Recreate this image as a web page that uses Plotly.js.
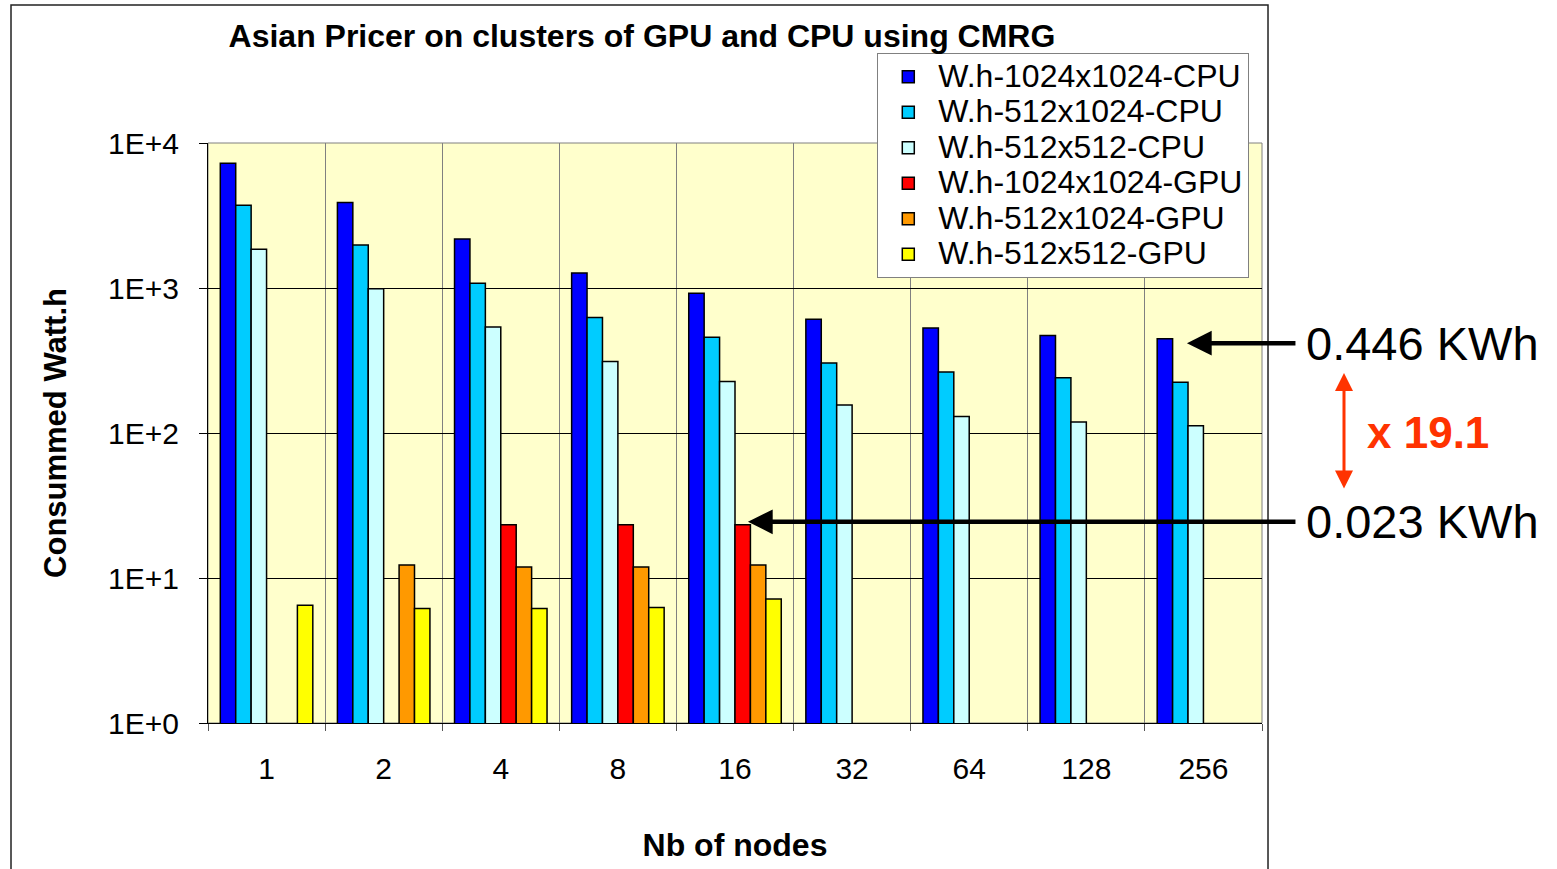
<!DOCTYPE html>
<html>
<head>
<meta charset="utf-8">
<script src="https://cdn.plot.ly/plotly-3.0.1.min.js"></script>
<style>html,body{margin:0;padding:0;background:#fff;}#chart{width:1557px;height:869px;}</style>
</head>
<body>
<div id="chart"></div>
<script>
// ---- data ----
const nodes = ['1', '2', '4', '8', '16', '32', '64', '128', '256'];
const seriesNames = ['W.h-1024x1024-CPU', 'W.h-512x1024-CPU', 'W.h-512x512-CPU',
                     'W.h-1024x1024-GPU', 'W.h-512x1024-GPU', 'W.h-512x512-GPU'];
const cpu1024x1024 = [7250, 3880, 2180, 1270, 920, 610, 530, 470, 446];
const cpu512x1024  = [3720, 1980, 1080, 625, 457, 304, 263, 240, 224];
const cpu512x512   = [1850, 990, 538, 311, 227, 156, 130, 119, 112];
const gpu1024x1024 = [null, null, 23.3, 23.3, 23.3, null, null, null, null];
const gpu512x1024  = [null, 12.3, 11.9, 11.9, 12.3, null, null, null, null];
const gpu512x512   = [6.5, 6.15, 6.15, 6.26, 7.16, null, null, null, null];
const yTickVals = [1, 10, 100, 1000, 10000];
const yTickText = ['1E+0', '1E+1', '1E+2', '1E+3', '1E+4'];
const colors = ['#0000FF', '#00CCFF', '#CCFFFF', '#FF0000', '#FF9900', '#FFFF00'];

const allSeries = [cpu1024x1024, cpu512x1024, cpu512x512, gpu1024x1024, gpu512x1024, gpu512x512];
const FONT = 'Liberation Sans, Arial, sans-serif';

const traces = allSeries.map((vals, i) => ({
  type: 'bar',
  name: '<span style="font-size:32px">' + seriesNames[i] + '</span>',
  x: nodes,
  y: vals,
  marker: {color: colors[i], line: {color: '#000000', width: 1.5}},
  hoverinfo: 'x+y'
}));

// annotated comparison
const cpuBest = cpu1024x1024[8];   // 256 nodes CPU
const gpuBest = gpu1024x1024[4];   // 16 nodes GPU
const ratio = (cpuBest / gpuBest).toFixed(1);
const kwh = v => (v / 1000).toFixed(3) + ' KWh';

const layout = {
  width: 1557,
  height: 869,
  margin: {l: 208, r: 295, t: 143, b: 146},
  paper_bgcolor: '#FFFFFF',
  plot_bgcolor: '#FFFFCC',
  font: {family: FONT, color: '#000000', size: 30},
  barmode: 'group',
  bargap: 0.21,
  bargroupgap: 0,
  showlegend: true,
  title: {
    text: '<b>Asian Pricer on clusters of GPU and CPU using CMRG</b>',
    font: {family: FONT, size: 32, color: '#000000'},
    xref: 'container', x: 0.4123, xanchor: 'center',
    yref: 'container', y: 0.9586, yanchor: 'middle'
  },
  xaxis: {
    type: 'category',
    tickson: 'boundaries',
    showgrid: true,
    gridcolor: '#808080',
    gridwidth: 1,
    showline: true,
    linecolor: '#000000',
    linewidth: 1,
    ticks: 'outside',
    ticklen: 7,
    tickcolor: '#555555',
    tickfont: {family: FONT, size: 30, color: '#000000'},
    ticklabelstandoff: 19,
    title: {text: '<b>Nb of nodes</b>', font: {family: FONT, size: 32}, standoff: 49},
    automargin: false,
    fixedrange: true
  },
  yaxis: {
    type: 'log',
    range: [0, 4],
    tickvals: yTickVals,
    ticktext: yTickText,
    showgrid: true,
    gridcolor: '#000000',
    gridwidth: 1,
    showline: true,
    linecolor: '#000000',
    linewidth: 1,
    ticks: 'outside',
    ticklen: 8,
    tickcolor: '#000000',
    tickfont: {family: FONT, size: 30, color: '#000000'},
    ticklabelstandoff: 14,
    title: {text: '<b>Consummed Watt.h</b>', font: {family: FONT, size: 31}, standoff: 32},
    automargin: false,
    fixedrange: true
  },
  legend: {
    x: 0.635, xanchor: 'left',
    y: 1.155, yanchor: 'top',
    bgcolor: '#FFFFFF',
    bordercolor: '#808080',
    borderwidth: 1,
    font: {family: FONT, size: 25, color: '#000000'},
    itemwidth: 50,
    traceorder: 'normal',
    tracegroupgap: 0
  },
  shapes: [
    // plot area frame (grey)
    {type: 'rect', xref: 'paper', yref: 'paper', x0: 0, x1: 1, y0: 0, y1: 1,
     line: {color: '#808080', width: 1}, fillcolor: 'rgba(0,0,0,0)', layer: 'below'},
    // chart area border
    {type: 'rect', xref: 'paper', yref: 'paper', x0: -0.1869, x1: 1.0057, y0: -0.27, y1: 1.2379,
     line: {color: '#222222', width: 1.5}, fillcolor: 'rgba(0,0,0,0)', layer: 'above'}
  ],
  annotations: [
    // arrow to best CPU bar
    {xref: 'paper', yref: 'y', x: 0.9288, y: Math.log10(cpuBest) - 0.03, text: '',
     showarrow: true, axref: 'pixel', ayref: 'pixel', ax: 110, ay: 0,
     arrowhead: 2, arrowsize: 1.1, arrowwidth: 4.5, arrowcolor: '#000000'},
    // arrow to best GPU bar
    {xref: 'paper', yref: 'y', x: 0.5123, y: Math.log10(gpuBest) + 0.02, text: '',
     showarrow: true, axref: 'pixel', ayref: 'pixel', ax: 549, ay: 0,
     arrowhead: 2, arrowsize: 1.1, arrowwidth: 4.5, arrowcolor: '#000000'},
    {xref: 'paper', yref: 'y', x: 1.0400, y: Math.log10(cpuBest) - 0.03, xanchor: 'left', yanchor: 'middle',
     text: kwh(cpuBest), showarrow: false, font: {family: FONT, size: 47, color: '#000000'}},
    {xref: 'paper', yref: 'y', x: 1.0400, y: Math.log10(gpuBest) + 0.02, xanchor: 'left', yanchor: 'middle',
     text: kwh(gpuBest), showarrow: false, font: {family: FONT, size: 47, color: '#000000'}},
    // red double arrow
    {xref: 'paper', yref: 'paper', x: 1.0778, y: 0.6034, text: '',
     showarrow: true, axref: 'pixel', ayref: 'pixel', ax: 0, ay: 117,
     arrowhead: 2, startarrowhead: 2, arrowside: 'end+start', arrowsize: 1.2, startarrowsize: 1.2,
     arrowwidth: 3, arrowcolor: '#FF3300'},
    {xref: 'paper', yref: 'paper', x: 1.0977, y: 0.5017, xanchor: 'left', yanchor: 'middle',
     text: '<b>x ' + ratio + '</b>', showarrow: false, font: {family: FONT, size: 44, color: '#FF3300'}}
  ]
};

Plotly.newPlot('chart', traces, layout, {displayModeBar: false, staticPlot: true});
</script>
</body>
</html>
